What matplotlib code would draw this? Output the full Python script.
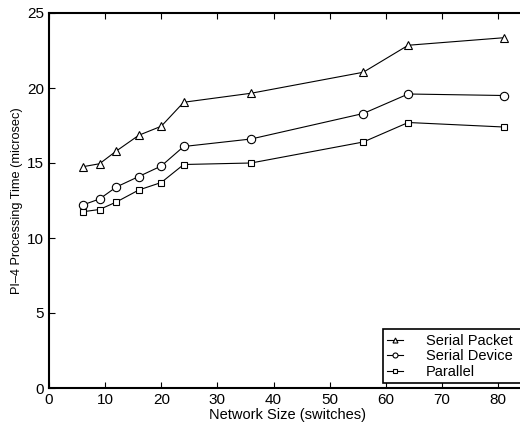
import matplotlib.pyplot as plt

plt.rcParams['font.family'] = ['Liberation Sans', 'DejaVu Sans']

# Network sizes (switches)
sizes = [6, 9, 12, 16, 20, 24, 36, 56, 64, 81]

# Processing times (microsec)
serial_packet = [14.75, 14.95, 15.8, 16.85, 17.45, 19.05, 19.65, 21.05, 22.85, 23.35]
serial_device = [12.2, 12.6, 13.4, 14.1, 14.8, 16.1, 16.6, 18.3, 19.6, 19.5]
parallel = [11.75, 11.9, 12.4, 13.2, 13.7, 14.9, 15.0, 16.4, 17.7, 17.4]

fig = plt.figure(figsize=(5.2, 4.28), dpi=100)
ax = fig.add_axes([49 / 520, 1 - 388 / 428, (85 * 449 / 80) / 520, 375 / 428])

style = dict(color='black', lw=0.8, markerfacecolor='white',
             markeredgecolor='black', markeredgewidth=0.8)
ax.plot(sizes, serial_packet, marker='^', markersize=6, label='Serial Packet', **style)
ax.plot(sizes, serial_device, marker='o', markersize=6, label='Serial Device', **style)
ax.plot(sizes, parallel, marker='s', markersize=5, label='Parallel', **style)

ax.set_xlim(0, 85)
ax.set_ylim(0, 25)
ax.set_xticks(range(0, 81, 10))
ax.set_yticks(range(0, 26, 5))
ax.tick_params(direction='in', top=True, right=True, labelsize=11, length=4, width=0.8)
for s in ax.spines.values():
    s.set_linewidth(1.5)

ax.set_xlabel('Network Size (switches)', fontsize=10.5, labelpad=1)
ax.set_ylabel('PI\u20134 Processing Time (microsec)', fontsize=9.2, labelpad=3)

# legend box runs off the right edge like in the original
leg = ax.legend(loc='lower left', bbox_to_anchor=(0.700, 0.013, 0.32, 0.1),
                mode='expand', fontsize=10.5,
                fancybox=False, edgecolor='black', framealpha=1,
                handlelength=1.05, handletextpad=1.6, borderpad=0.3,
                labelspacing=0.1, borderaxespad=0.0, markerscale=0.6)
leg.get_frame().set_linewidth(1.2)

fig.savefig('out.png', dpi=100)
